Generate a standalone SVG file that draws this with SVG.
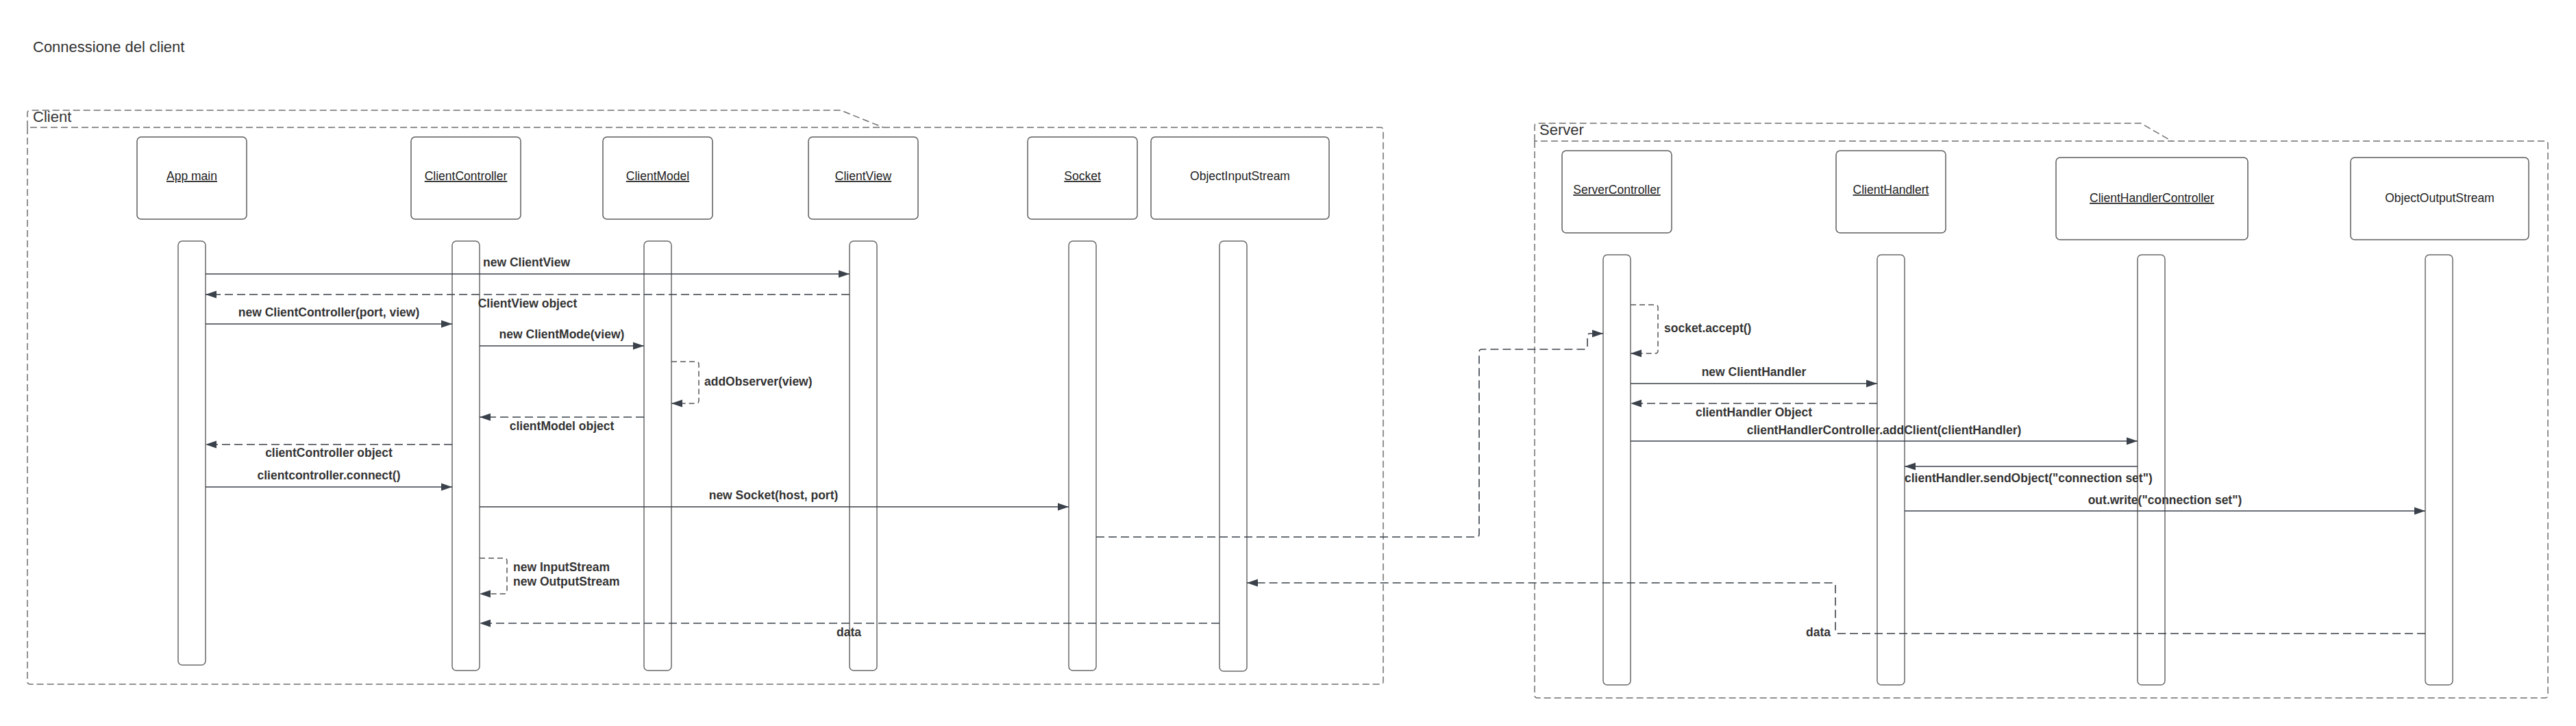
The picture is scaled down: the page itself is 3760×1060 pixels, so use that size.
<svg xmlns="http://www.w3.org/2000/svg" width="3760" height="1060" viewBox="0 0 3760 1060">
<defs>
<marker id="arr" markerUnits="userSpaceOnUse" markerWidth="16" markerHeight="12" refX="16" refY="6" orient="auto">
<path d="M0,0.5 L16,6 L0,11.5 z" fill="#3a414a"/>
</marker>
<style>
.frame{fill:none;stroke:#6f6f6f;stroke-width:1.5;stroke-dasharray:10 5}
.box{fill:#fff;stroke:#5e5e5e;stroke-width:1.5}
.life{fill:#fff;stroke:#6a6a6a;stroke-width:1.5}
.msg{fill:none;stroke:#3a414a;stroke-width:1.6;marker-end:url(#arr)}
.ret{fill:none;stroke:#3a414a;stroke-width:1.6;stroke-dasharray:12 6;marker-end:url(#arr)}
.self{fill:none;stroke:#555;stroke-width:1.5;stroke-dasharray:8 5;marker-end:url(#arr)}
.lbl{font-family:"Liberation Sans",Arial,sans-serif;font-size:17.5px;font-weight:bold;fill:#333}
.nl{font-family:"Liberation Sans",Arial,sans-serif;font-size:17.5px;fill:#222;text-anchor:middle}
.u{text-decoration:underline}
.ft{font-family:"Liberation Sans",Arial,sans-serif;font-size:22px;fill:#333}
</style>
</defs>
<rect width="3760" height="1060" fill="#fff"/>
<text class="ft" x="48" y="76">Connessione del client</text>

<g id="frame-client">
<path class="frame" d="M40,186 V995 Q40,999 44,999 H2015 Q2019,999 2019,995 V190 Q2019,186 2015,186 H40"/>
<path class="frame" d="M40,186 V165 Q40,161 44,161 H1227 L1289,186"/>
<text class="ft" x="48" y="178">Client</text>
</g>
<g id="frame-server">
<path class="frame" d="M2240,206 V1015 Q2240,1019 2244,1019 H3715 Q3719,1019 3719,1015 V210 Q3719,206 3715,206 H2240"/>
<path class="frame" d="M2240,206 V184 Q2240,180 2244,180 H3125 L3170,206"/>
<text class="ft" x="2247" y="197">Server</text>
</g>

<g id="app-main">
<rect class="box" x="200" y="200" width="160" height="120" rx="6"/>
<text class="nl u" x="280" y="263">App main</text>
<rect class="life" x="260" y="352" width="40" height="619" rx="6"/>
</g>
<g id="client-controller">
<rect class="box" x="600" y="200" width="160" height="120" rx="6"/>
<text class="nl u" x="680" y="263">ClientController</text>
<rect class="life" x="660" y="352" width="40" height="627" rx="6"/>
</g>
<g id="client-model">
<rect class="box" x="880" y="200" width="160" height="120" rx="6"/>
<text class="nl u" x="960" y="263">ClientModel</text>
<rect class="life" x="940" y="352" width="40" height="627" rx="6"/>
</g>
<g id="client-view">
<rect class="box" x="1180" y="200" width="160" height="120" rx="6"/>
<text class="nl u" x="1260" y="263">ClientView</text>
<rect class="life" x="1240" y="352" width="40" height="627" rx="6"/>
</g>
<g id="socket">
<rect class="box" x="1500" y="200" width="160" height="120" rx="6"/>
<text class="nl u" x="1580" y="263">Socket</text>
<rect class="life" x="1560" y="352" width="40" height="627" rx="6"/>
</g>
<g id="object-input-stream">
<rect class="box" x="1680" y="200" width="260" height="120" rx="6"/>
<text class="nl" x="1810" y="263">ObjectInputStream</text>
<rect class="life" x="1780" y="352" width="40" height="628" rx="6"/>
</g>
<g id="server-controller">
<rect class="box" x="2280" y="220" width="160" height="120" rx="6"/>
<text class="nl u" x="2360" y="283">ServerController</text>
<rect class="life" x="2340" y="372" width="40" height="628" rx="6"/>
</g>
<g id="client-handlert">
<rect class="box" x="2680" y="220" width="160" height="120" rx="6"/>
<text class="nl u" x="2760" y="283">ClientHandlert</text>
<rect class="life" x="2740" y="372" width="40" height="628" rx="6"/>
</g>
<g id="client-handler-controller">
<rect class="box" x="3001" y="230" width="280" height="120" rx="6"/>
<text class="nl u" x="3141" y="295">ClientHandlerController</text>
<rect class="life" x="3120" y="372" width="40" height="628" rx="6"/>
</g>
<g id="object-output-stream">
<rect class="box" x="3431" y="230" width="260" height="120" rx="6"/>
<text class="nl" x="3561" y="295">ObjectOutputStream</text>
<rect class="life" x="3540" y="372" width="40" height="628" rx="6"/>
</g>

<g id="connectors">
<path class="msg" d="M300,400 H1240"/>
<text class="lbl" x="705" y="389">new ClientView</text>
<path class="ret" d="M1240,430 H300"/>
<text class="lbl" x="770" y="449" text-anchor="middle">ClientView object</text>
<path class="msg" d="M300,473 H660"/>
<text class="lbl" x="480" y="462" text-anchor="middle">new ClientController(port, view)</text>
<path class="msg" d="M700,505 H940"/>
<text class="lbl" x="820" y="494" text-anchor="middle">new ClientMode(view)</text>
<path class="self" d="M980,528 H1016 Q1020,528 1020,532 V585 Q1020,589 1016,589 H980"/>
<text class="lbl" x="1028" y="563">addObserver(view)</text>
<path class="ret" d="M940,609 H700"/>
<text class="lbl" x="820" y="628" text-anchor="middle">clientModel object</text>
<path class="ret" d="M660,649 H300"/>
<text class="lbl" x="480" y="667" text-anchor="middle">clientController object</text>
<path class="msg" d="M300,711 H660"/>
<text class="lbl" x="480" y="700" text-anchor="middle">clientcontroller.connect()</text>
<path class="msg" d="M700,740 H1560"/>
<text class="lbl" x="1129" y="729" text-anchor="middle">new Socket(host, port)</text>
<path class="self" d="M700,815 H736 Q740,815 740,819 V863 Q740,867 736,867 H700"/>
<text class="lbl" x="749" y="834">new InputStream</text>
<text class="lbl" x="749" y="855">new OutputStream</text>
<path class="ret" d="M1780,910 H700"/>
<text class="lbl" x="1239" y="929" text-anchor="middle">data</text>

<path class="ret" d="M1600,784 H2155 Q2159,784 2159,780 V514 Q2159,510 2163,510 H2313 Q2317,510 2317,506 V491 Q2317,487 2321,487 H2340"/>
<path class="ret" d="M3540,925 H2683 Q2679,925 2679,921 V855 Q2679,851 2675,851 H1820"/>
<text class="lbl" x="2672" y="929" text-anchor="end">data</text>

<path class="self" d="M2380,445 H2416 Q2420,445 2420,449 V512 Q2420,516 2416,516 H2380"/>
<text class="lbl" x="2429" y="485">socket.accept()</text>
<path class="msg" d="M2380,560 H2740"/>
<text class="lbl" x="2560" y="549" text-anchor="middle">new ClientHandler</text>
<path class="ret" d="M2740,589 H2380"/>
<text class="lbl" x="2560" y="608" text-anchor="middle">clientHandler Object</text>
<path class="msg" d="M2380,644 H3120"/>
<text class="lbl" x="2750" y="634" text-anchor="middle">clientHandlerController.addClient(clientHandler)</text>
<path class="msg" d="M3120,681 H2780"/>
<text class="lbl" x="2780" y="704">clientHandler.sendObject("connection set")</text>
<path class="msg" d="M2780,746 H3540"/>
<text class="lbl" x="3160" y="736" text-anchor="middle">out.write("connection set")</text>
</g>
</svg>
